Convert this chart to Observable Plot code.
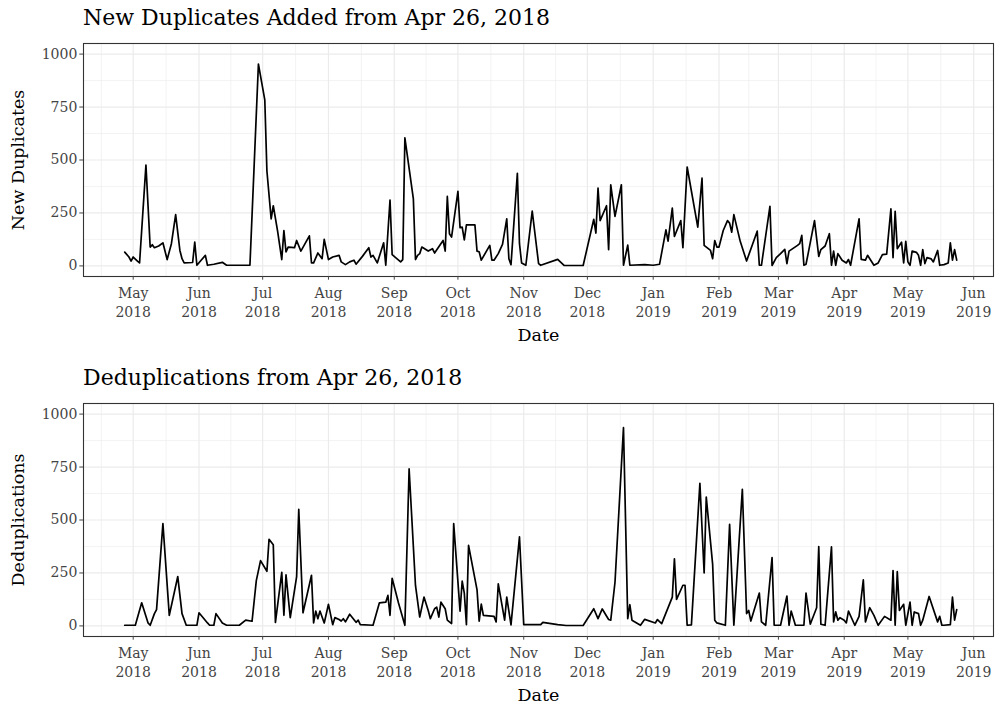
<!DOCTYPE html>
<html><head><meta charset="utf-8">
<script src="https://cdn.jsdelivr.net/npm/d3@7"></script>
<script src="https://cdn.jsdelivr.net/npm/@observablehq/plot@0.6"></script>
<style>
body{margin:0;background:#fff;width:995px;height:706px;overflow:hidden;font-family:"DejaVu Serif",serif}
.title{font-size:22px;color:#000;height:36px;line-height:36px;padding-left:83px;box-sizing:border-box;white-space:nowrap}
svg{display:block}
</style></head><body><div id="c"></div>
<script>
// ---- data ----
const dupDates = ["2018-04-27","2018-04-29","2018-04-30","2018-05-01","2018-05-03","2018-05-04","2018-05-07","2018-05-09","2018-05-10","2018-05-11","2018-05-13","2018-05-15","2018-05-17","2018-05-19","2018-05-21","2018-05-23","2018-05-24","2018-05-25","2018-05-29","2018-05-30","2018-05-31","2018-06-02","2018-06-04","2018-06-05","2018-06-08","2018-06-12","2018-06-14","2018-06-25","2018-06-29","2018-07-02","2018-07-03","2018-07-05","2018-07-06","2018-07-08","2018-07-10","2018-07-11","2018-07-12","2018-07-13","2018-07-16","2018-07-17","2018-07-19","2018-07-23","2018-07-24","2018-07-25","2018-07-27","2018-07-29","2018-07-30","2018-08-01","2018-08-03","2018-08-06","2018-08-07","2018-08-09","2018-08-11","2018-08-13","2018-08-14","2018-08-17","2018-08-20","2018-08-21","2018-08-22","2018-08-24","2018-08-27","2018-08-28","2018-08-30","2018-08-31","2018-09-04","2018-09-05","2018-09-06","2018-09-10","2018-09-11","2018-09-12","2018-09-13","2018-09-14","2018-09-17","2018-09-19","2018-09-20","2018-09-24","2018-09-25","2018-09-26","2018-09-27","2018-09-28","2018-10-01","2018-10-02","2018-10-03","2018-10-04","2018-10-05","2018-10-09","2018-10-10","2018-10-11","2018-10-12","2018-10-16","2018-10-17","2018-10-18","2018-10-20","2018-10-22","2018-10-24","2018-10-25","2018-10-26","2018-10-29","2018-10-30","2018-10-31","2018-11-02","2018-11-05","2018-11-08","2018-11-09","2018-11-17","2018-11-20","2018-11-29","2018-12-04","2018-12-05","2018-12-06","2018-12-07","2018-12-10","2018-12-11","2018-12-12","2018-12-14","2018-12-17","2018-12-18","2018-12-20","2018-12-21","2018-12-28","2019-01-01","2019-01-04","2019-01-07","2019-01-08","2019-01-10","2019-01-11","2019-01-14","2019-01-15","2019-01-17","2019-01-22","2019-01-24","2019-01-25","2019-01-28","2019-01-29","2019-01-30","2019-01-31","2019-02-01","2019-02-03","2019-02-05","2019-02-06","2019-02-07","2019-02-08","2019-02-11","2019-02-14","2019-02-19","2019-02-20","2019-02-21","2019-02-25","2019-02-26","2019-02-28","2019-03-02","2019-03-04","2019-03-05","2019-03-06","2019-03-10","2019-03-11","2019-03-12","2019-03-13","2019-03-14","2019-03-15","2019-03-18","2019-03-20","2019-03-21","2019-03-23","2019-03-25","2019-03-26","2019-03-27","2019-03-28","2019-03-29","2019-03-31","2019-04-02","2019-04-03","2019-04-04","2019-04-05","2019-04-08","2019-04-09","2019-04-11","2019-04-12","2019-04-15","2019-04-17","2019-04-19","2019-04-21","2019-04-23","2019-04-24","2019-04-25","2019-04-26","2019-04-28","2019-04-29","2019-04-30","2019-05-01","2019-05-02","2019-05-03","2019-05-05","2019-05-06","2019-05-07","2019-05-08","2019-05-09","2019-05-10","2019-05-12","2019-05-13","2019-05-15","2019-05-16","2019-05-18","2019-05-20","2019-05-21","2019-05-22","2019-05-23","2019-05-24"];
const dupValues = [65,42,23,42,23,14,476,89,100,86,94,109,30,105,242,73,34,14,16,112,3,27,50,3,8,17,3,3,953,784,448,222,284,167,30,167,66,89,86,120,70,142,14,14,61,34,125,30,42,50,19,6,19,27,8,45,86,42,50,14,109,3,311,53,19,30,605,316,30,50,58,89,70,81,61,120,70,328,152,136,352,180,183,123,194,194,70,67,27,97,27,27,58,102,222,34,6,437,105,14,3,259,11,3,31,2,2,220,155,367,214,284,77,383,234,383,3,98,3,6,3,8,170,117,273,139,214,86,467,183,414,97,73,34,120,89,89,167,214,202,159,242,116,23,164,3,3,281,2,39,58,78,11,70,97,105,144,3,8,58,214,45,77,94,152,3,70,3,58,27,14,30,3,58,222,31,27,50,3,14,53,56,269,39,258,81,112,14,116,19,3,70,64,50,3,77,11,39,33,19,73,3,6,14,109,27,77,27];

const dedupDates = ["2018-04-27","2018-05-02","2018-05-05","2018-05-08","2018-05-09","2018-05-11","2018-05-12","2018-05-15","2018-05-18","2018-05-22","2018-05-24","2018-05-26","2018-05-31","2018-06-01","2018-06-05","2018-06-06","2018-06-08","2018-06-09","2018-06-12","2018-06-14","2018-06-20","2018-06-23","2018-06-26","2018-06-28","2018-06-30","2018-07-03","2018-07-04","2018-07-06","2018-07-07","2018-07-10","2018-07-11","2018-07-12","2018-07-14","2018-07-17","2018-07-18","2018-07-20","2018-07-24","2018-07-25","2018-07-26","2018-07-27","2018-07-28","2018-07-30","2018-08-01","2018-08-03","2018-08-04","2018-08-06","2018-08-07","2018-08-08","2018-08-09","2018-08-11","2018-08-14","2018-08-15","2018-08-16","2018-08-22","2018-08-25","2018-08-28","2018-08-29","2018-08-30","2018-08-31","2018-09-03","2018-09-06","2018-09-08","2018-09-11","2018-09-13","2018-09-15","2018-09-17","2018-09-18","2018-09-20","2018-09-21","2018-09-22","2018-09-23","2018-09-25","2018-09-26","2018-09-28","2018-09-29","2018-10-02","2018-10-03","2018-10-04","2018-10-05","2018-10-06","2018-10-10","2018-10-11","2018-10-12","2018-10-13","2018-10-18","2018-10-19","2018-10-20","2018-10-23","2018-10-24","2018-10-26","2018-10-30","2018-11-01","2018-11-09","2018-11-10","2018-11-17","2018-11-21","2018-11-29","2018-12-04","2018-12-06","2018-12-08","2018-12-11","2018-12-12","2018-12-14","2018-12-18","2018-12-20","2018-12-21","2018-12-22","2018-12-26","2018-12-28","2019-01-02","2019-01-03","2019-01-05","2019-01-10","2019-01-11","2019-01-12","2019-01-15","2019-01-16","2019-01-17","2019-01-19","2019-01-23","2019-01-25","2019-01-26","2019-01-29","2019-01-30","2019-01-31","2019-02-04","2019-02-06","2019-02-08","2019-02-12","2019-02-14","2019-02-15","2019-02-16","2019-02-20","2019-02-21","2019-02-23","2019-02-26","2019-02-27","2019-03-02","2019-03-05","2019-03-06","2019-03-07","2019-03-09","2019-03-13","2019-03-14","2019-03-16","2019-03-19","2019-03-20","2019-03-21","2019-03-23","2019-03-26","2019-03-27","2019-03-28","2019-03-29","2019-03-30","2019-04-01","2019-04-02","2019-04-03","2019-04-06","2019-04-08","2019-04-10","2019-04-11","2019-04-13","2019-04-15","2019-04-17","2019-04-20","2019-04-23","2019-04-24","2019-04-25","2019-04-26","2019-04-27","2019-04-29","2019-04-30","2019-05-02","2019-05-03","2019-05-04","2019-05-06","2019-05-07","2019-05-08","2019-05-11","2019-05-15","2019-05-16","2019-05-17","2019-05-18","2019-05-21","2019-05-22","2019-05-23","2019-05-24"];
const dedupValues = [3,3,109,14,3,58,77,483,50,233,58,3,3,62,14,3,3,58,14,3,3,27,22,214,308,258,409,383,16,253,50,241,39,233,550,62,239,14,70,34,70,14,102,6,39,30,23,34,19,55,17,27,6,3,109,112,144,50,225,108,3,741,191,42,136,73,34,81,89,42,112,81,27,11,483,70,211,155,6,380,170,22,103,50,45,19,198,27,136,5,420,6,6,17,6,2,2,81,34,80,30,27,206,936,34,100,27,3,31,14,30,11,136,317,125,192,192,3,5,673,250,608,292,27,14,3,480,3,645,58,73,23,155,19,3,323,3,3,141,3,70,3,3,155,8,86,375,8,3,373,19,66,27,39,27,14,70,3,45,217,19,86,50,3,45,27,261,3,256,73,102,3,112,3,66,58,3,27,139,19,45,3,3,6,136,27,77];

const titles = ["New Duplicates Added from Apr 26, 2018", "Deduplications from Apr 26, 2018"];
const yLabels = ["New Duplicates", "Deduplications"];
const xLabel = "Date";
const yTicks = [0, 250, 500, 750, 1000];
const yMinor = [125, 375, 625, 875];
const monthTicks = ["2018-05-01","2018-06-01","2018-07-01","2018-08-01","2018-09-01","2018-10-01","2018-11-01","2018-12-01","2019-01-01","2019-02-01","2019-03-01","2019-04-01","2019-05-01","2019-06-01"];
const monthTickLabels = ["May\n2018","Jun\n2018","Jul\n2018","Aug\n2018","Sep\n2018","Oct\n2018","Nov\n2018","Dec\n2018","Jan\n2019","Feb\n2019","Mar\n2019","Apr\n2019","May\n2019","Jun\n2019"];

// ---- build ----
const X_DOMAIN = [new Date("2018-04-07T14:00:00Z"), new Date("2019-06-10T08:00:00Z")];
const Y_DOMAIN = [-50, 1050];
const majorX = monthTicks.map(d => new Date(d + "T00:00:00Z"));
const labelOf = new Map(majorX.map((d, i) => [+d, monthTickLabels[i]]));
const gridMonths = d3.utcMonth.range(new Date("2018-04-01T00:00:00Z"), new Date("2019-07-02T00:00:00Z"));
const minorX = d3.pairs(gridMonths).map(([a, b]) => new Date((+a + +b) / 2))
  .filter(d => d >= X_DOMAIN[0] && d <= X_DOMAIN[1]);

function toRows(dates, values) {
  return dates.map((d, i) => ({date: new Date(d + "T00:00:00Z"), value: values[i]}));
}

const FONT = '"DejaVu Serif", serif';
function panel(rows, yLabel, height, marginBottom) {
  return Plot.plot({
    width: 995, height,
    marginLeft: 83, marginRight: 2, marginTop: 7, marginBottom,
    style: {fontFamily: FONT, background: "transparent", overflow: "visible"},
    x: {type: "utc", domain: X_DOMAIN},
    y: {domain: Y_DOMAIN},
    marks: [
      Plot.ruleX(minorX, {stroke: "#EBEBEB", strokeWidth: 0.6}),
      Plot.ruleY(yMinor, {stroke: "#EBEBEB", strokeWidth: 0.6}),
      Plot.ruleX(majorX, {stroke: "#EBEBEB", strokeWidth: 1.2}),
      Plot.ruleY(yTicks, {stroke: "#EBEBEB", strokeWidth: 1.2}),
      Plot.line(rows, {x: "date", y: "value", stroke: "#000", strokeWidth: 1.7}),
      Plot.frame({stroke: "#333", strokeWidth: 1.1}),
      Plot.axisY({ticks: yTicks, tickFormat: d => String(d), tickSize: 3.7, tickPadding: 2.5, fontSize: 14, color: "#444", label: null}),
      Plot.axisX({ticks: majorX, tickFormat: d => labelOf.get(+d), tickSize: 3.7, tickPadding: 4, fontSize: 14, lineHeight: 1.38, color: "#444", label: null}),
      Plot.text([yLabel], {frameAnchor: "left", dx: -65, rotate: -90, textAnchor: "middle", lineAnchor: "middle", fontSize: 17.5, fill: "#000"}),
      Plot.text([xLabel], {frameAnchor: "bottom", dy: 58.5, textAnchor: "middle", lineAnchor: "middle", fontSize: 17.5, fill: "#000"})
    ]
  });
}

const c = document.getElementById("c");
const t1 = document.createElement("div"); t1.className = "title"; t1.textContent = titles[0]; c.appendChild(t1);
c.appendChild(panel(toRows(dupDates, dupValues), yLabels[0], 324, 84));
const t2 = document.createElement("div"); t2.className = "title"; t2.textContent = titles[1]; c.appendChild(t2);
c.appendChild(panel(toRows(dedupDates, dedupValues), yLabels[1], 310, 70));
</script>
</body></html>
